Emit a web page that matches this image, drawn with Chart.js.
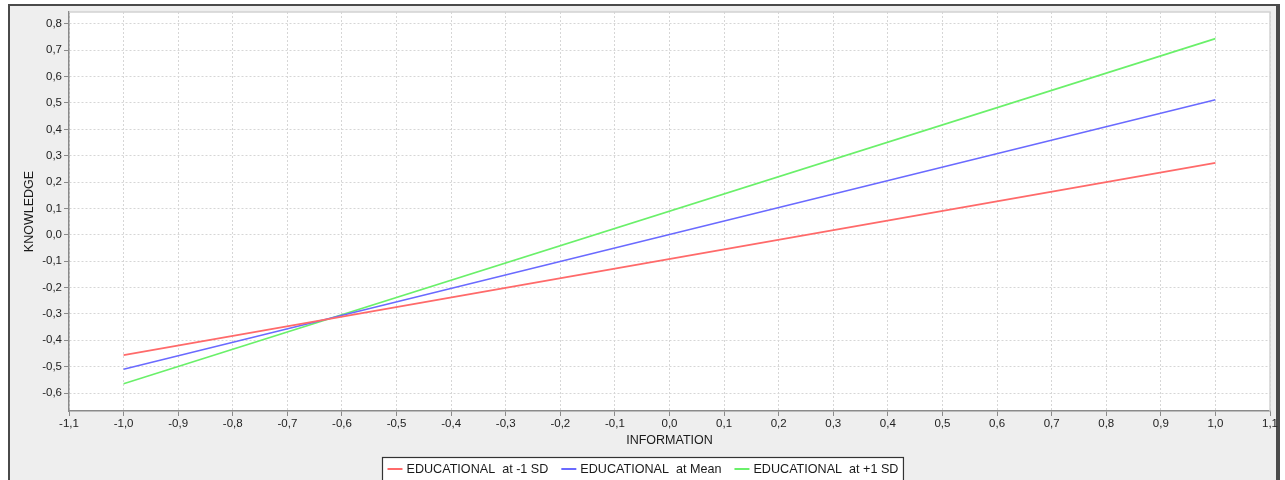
<!DOCTYPE html>
<html>
<head>
<meta charset="utf-8">
<script src="https://cdn.jsdelivr.net/npm/chart.js@4/dist/chart.umd.min.js"></script>
<style>
  html, body { margin: 0; padding: 0; background: #fff; width: 1285px; height: 480px; overflow: hidden; }
  .frame { position: absolute; left: 8px; top: 4px; width: 1266px; height: 490px;
           border-left: 2px solid #4a4a4a; border-top: 2px solid #4a4a4a; border-right: 4px solid #4a4a4a;
           background: #eeeeee; }
  #wrap { position: absolute; left: 0; top: 0; width: 1285px; height: 480px; }
</style>
</head>
<body>
<div class="frame"></div>
<div id="wrap"><canvas id="chart" width="1285" height="480"></canvas></div>
<script>
// values
const information = [-1.0, 1.0];
const seriesNames = ["EDUCATIONAL  at -1 SD", "EDUCATIONAL  at Mean", "EDUCATIONAL  at +1 SD"];
const lowSD = [-0.456, 0.273];
const meanSD = [-0.51, 0.512];
const highSD = [-0.565, 0.744];
const lineColors = ["#ff6a6a", "#6a6aff", "#6af06a"];

const toPoints = (ys) => information.map((x, i) => ({ x: x, y: ys[i] }));
const fmt = (v) => {
  let s = Number(v).toFixed(1);
  if (s === "-0.0") s = "0.0";
  return s.replace(".", ",");
};

const plotBg = {
  id: "plotBg",
  beforeDraw(chart) {
    const { ctx, chartArea: a } = chart;
    ctx.save();
    ctx.fillStyle = "#ffffff";
    ctx.fillRect(a.left, a.top, a.right - a.left, a.bottom - a.top);
    ctx.restore();
  },
  afterDatasetsDraw(chart) {
    const { ctx, chartArea: a } = chart;
    ctx.save();
    ctx.strokeStyle = "#d2d2d2";
    ctx.lineWidth = 1.5;
    ctx.beginPath();
    ctx.moveTo(a.left, a.top);
    ctx.lineTo(a.right, a.top);
    ctx.lineTo(a.right, a.bottom);
    ctx.stroke();
    ctx.restore();
  }
};

// legend box at the bottom, like the original
const boxLegend = {
  id: "boxLegend",
  afterDraw(chart) {
    const ctx = chart.ctx;
    const sets = chart.data.datasets;
    ctx.save();
    ctx.font = "12.6px 'Liberation Sans', Arial, sans-serif";
    ctx.textBaseline = "middle";
    const sample = 15, gap = 4, itemGap = 13, padX = 5;
    const widths = sets.map((d) => sample + gap + ctx.measureText(d.label).width);
    const total = widths.reduce((a, b) => a + b, 0) + itemGap * (sets.length - 1) + padX * 2;
    const left = Math.round(chart.width / 2 - total / 2) + 0.5;
    const top = 457.5;
    ctx.fillStyle = "#ffffff";
    ctx.fillRect(left, top, total, 30);
    ctx.strokeStyle = "#333333";
    ctx.lineWidth = 1.2;
    ctx.strokeRect(left, top, total, 30);
    let x = left + padX;
    const y = 469;
    sets.forEach((d, i) => {
      ctx.strokeStyle = d.borderColor;
      ctx.lineWidth = 2;
      ctx.beginPath();
      ctx.moveTo(x, y);
      ctx.lineTo(x + sample, y);
      ctx.stroke();
      ctx.fillStyle = "#1a1a1a";
      ctx.fillText(d.label, x + sample + gap, y + 0.5);
      x += widths[i] + itemGap;
    });
    ctx.restore();
  }
};

const tickFont = { family: "'Liberation Sans', Arial, sans-serif", size: 11.5 };

new Chart(document.getElementById("chart"), {
  type: "scatter",
  data: {
    datasets: [lowSD, meanSD, highSD].map((ys, i) => ({
      label: seriesNames[i],
      data: toPoints(ys),
      showLine: true,
      borderColor: lineColors[i],
      backgroundColor: lineColors[i],
      borderWidth: 1.6,
      pointRadius: 0,
      pointHoverRadius: 0
    }))
  },
  options: {
    responsive: false,
    animation: false,
    devicePixelRatio: 1,
    layout: { padding: { left: 22, top: 12, right: 15, bottom: 32 } },
    plugins: {
      legend: { display: false },
      tooltip: { enabled: false }
    },
    scales: {
      x: {
        type: "linear",
        min: -1.1,
        max: 1.1,
        afterFit(scale) {
          scale.height = 37;
          scale.paddingLeft = 0;
          scale.paddingRight = 0;
        },
        ticks: {
          stepSize: 0.1,
          includeBounds: false,
          maxRotation: 0,
          autoSkip: false,
          padding: 1,
          color: "#222222",
          font: tickFont,
          callback: (v) => fmt(v)
        },
        grid: { color: "#d6d6d6", tickColor: "#8a8a8a", tickLength: 5, lineWidth: 1 },
        border: { color: "#8a8a8a", width: 1.5, dash: [2, 2] },
        title: {
          display: true,
          text: "INFORMATION",
          color: "#1a1a1a",
          padding: 0,
          font: { family: "'Liberation Sans', Arial, sans-serif", size: 12.5 }
        }
      },
      y: {
        type: "linear",
        min: -0.668,
        max: 0.845,
        afterFit(scale) {
          scale.width = 47;
          scale.paddingTop = 0;
          scale.paddingBottom = 0;
        },
        ticks: {
          stepSize: 0.1,
          includeBounds: false,
          padding: 2,
          color: "#222222",
          font: tickFont,
          callback: (v) => fmt(v)
        },
        grid: { color: "#d6d6d6", tickColor: "#8a8a8a", tickLength: 5, lineWidth: 1 },
        border: { color: "#8a8a8a", width: 1.5, dash: [2, 2] },
        title: {
          display: true,
          text: "KNOWLEDGE",
          color: "#1a1a1a",
          padding: 0,
          font: { family: "'Liberation Sans', Arial, sans-serif", size: 12.5 }
        }
      }
    }
  },
  plugins: [plotBg, boxLegend]
});
</script>
</body>
</html>
